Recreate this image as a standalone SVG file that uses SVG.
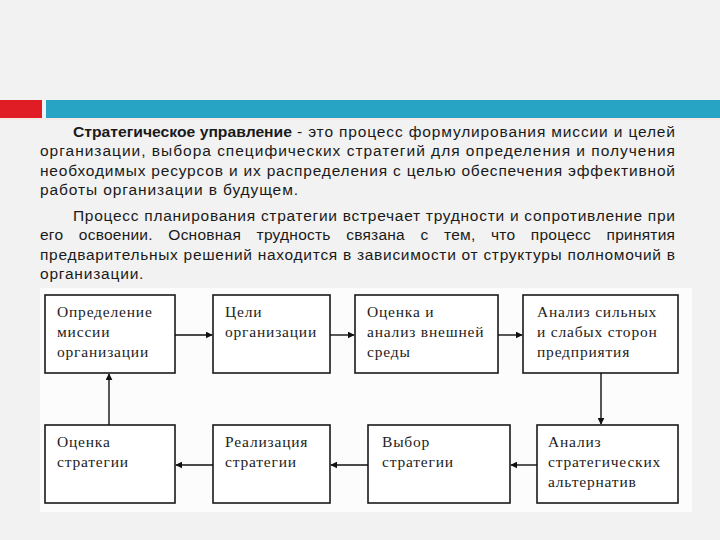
<svg xmlns="http://www.w3.org/2000/svg" width="720" height="540" viewBox="0 0 720 540">
<defs>
<style>
.p{font-family:"Liberation Sans","Open Sans",sans-serif;font-size:15.5px;fill:#1a1a1a}
.b{font-weight:bold}
.box{fill:#fff;stroke:#1a1a1a;stroke-width:1.6}
.t{font-family:"Liberation Serif","DejaVu Serif",serif;font-size:15.5px;fill:#222;letter-spacing:0.8px}
.c{stroke:#111;stroke-width:1.4;fill:none;marker-end:url(#ah)}
</style>
<marker id="ah" viewBox="0 0 10 10" refX="9" refY="5" markerWidth="7" markerHeight="7" markerUnits="userSpaceOnUse" orient="auto">
<path d="M0,0 L10,5 L0,10 z" fill="#111"/>
</marker>
</defs>
<rect width="720" height="540" fill="#f2f2f2"/>
<rect x="0" y="100" width="42" height="18" fill="#e01c24"/>
<rect x="46" y="100" width="674" height="18" fill="#27a3c4"/>
<rect x="0" y="118" width="720" height="2" fill="#f7e8e8"/>

<g id="text">
<text class="p b" x="73" y="137" textLength="219" lengthAdjust="spacingAndGlyphs">Стратегическое управление</text>
<text class="p" x="297" y="137" textLength="378" lengthAdjust="spacing">- это процесс формулирования миссии и целей</text>
<text class="p" x="40" y="156" textLength="635" lengthAdjust="spacing">организации, выбора специфических стратегий для определения и получения</text>
<text class="p" x="40" y="176" textLength="635" lengthAdjust="spacing">необходимых ресурсов и их распределения с целью обеспечения эффективной</text>
<text class="p" x="40" y="195" textLength="258" lengthAdjust="spacing">работы организации в будущем.</text>
<text class="p" x="73" y="221" textLength="602" lengthAdjust="spacing">Процесс планирования стратегии встречает трудности и сопротивление при</text>
<text class="p" x="40" y="240" word-spacing="11" textLength="635" lengthAdjust="spacing">его освоении. Основная трудность связана с тем, что процесс принятия</text>
<text class="p" x="40" y="260" textLength="635" lengthAdjust="spacing">предварительных решений находится в зависимости от структуры полномочий в</text>
<text class="p" x="40" y="279" letter-spacing="0.8">организации.</text>
</g>

<rect x="40" y="288" width="652" height="224" fill="#fcfcfc"/>

<g id="n1"><rect class="box" x="45" y="295" width="130" height="78"/>
<text class="t" x="57" y="317">Определение</text><text class="t" x="57" y="337">миссии</text><text class="t" x="57" y="357">организации</text></g>
<g id="n2"><rect class="box" x="213" y="295" width="117" height="78"/>
<text class="t" x="225" y="317">Цели</text><text class="t" x="225" y="337">организации</text></g>
<g id="n3"><rect class="box" x="355" y="295" width="143" height="78"/>
<text class="t" x="367" y="317">Оценка и</text><text class="t" x="367" y="337">анализ внешней</text><text class="t" x="367" y="357">среды</text></g>
<g id="n4"><rect class="box" x="523" y="295" width="155" height="78"/>
<text class="t" x="537" y="317">Анализ сильных</text><text class="t" x="537" y="337">и слабых сторон</text><text class="t" x="537" y="357">предприятия</text></g>
<g id="n5"><rect class="box" x="45" y="425" width="130" height="78"/>
<text class="t" x="57" y="447">Оценка</text><text class="t" x="57" y="467">стратегии</text></g>
<g id="n6"><rect class="box" x="213" y="425" width="117" height="78"/>
<text class="t" x="225" y="447">Реализация</text><text class="t" x="225" y="467">стратегии</text></g>
<g id="n7"><rect class="box" x="368" y="425" width="142" height="78"/>
<text class="t" x="382" y="447">Выбор</text><text class="t" x="382" y="467">стратегии</text></g>
<g id="n8"><rect class="box" x="537" y="425" width="141" height="78"/>
<text class="t" x="548" y="447">Анализ</text><text class="t" x="548" y="467">стратегических</text><text class="t" x="548" y="487">альтернатив</text></g>

<g id="connectors">
<line class="c" x1="175" y1="335" x2="212" y2="335"/>
<line class="c" x1="330" y1="335" x2="354" y2="335"/>
<line class="c" x1="498" y1="335" x2="522" y2="335"/>
<line class="c" x1="601" y1="373" x2="601" y2="424"/>
<line class="c" x1="537" y1="465" x2="511" y2="465"/>
<line class="c" x1="368" y1="465" x2="331" y2="465"/>
<line class="c" x1="213" y1="465" x2="176" y2="465"/>
<line class="c" x1="109" y1="425" x2="109" y2="374"/>
</g>
</svg>
